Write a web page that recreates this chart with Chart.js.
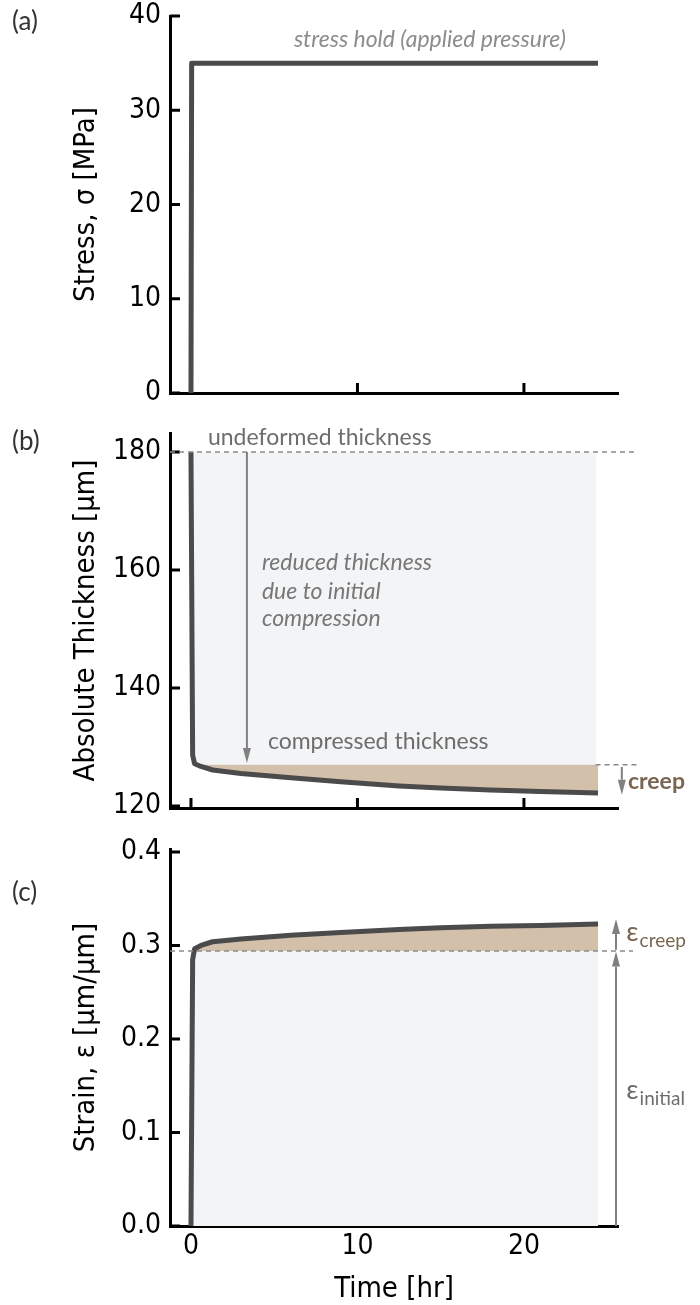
<!DOCTYPE html>
<html>
<head>
<meta charset="utf-8">
<script src="https://cdn.jsdelivr.net/npm/chart.js@4.4.1/dist/chart.umd.min.js"></script>
<style>
  html, body { margin: 0; padding: 0; background: #fff; }
  #wrap { position: relative; width: 700px; height: 1305px; }
  canvas { position: absolute; left: 0; }
</style>
</head>
<body>
<div id="wrap">
  <canvas id="chartA" width="700" height="405" style="top:0"></canvas>
  <canvas id="chartB" width="700" height="410" style="top:405px"></canvas>
  <canvas id="chartC" width="700" height="490" style="top:815px"></canvas>
</div>
<script>
// values
const timeHr      = [0, 0.1, 0.22, 0.6, 1.3, 3, 6, 9, 12.5, 15, 18, 21, 24.45];
const thicknessUm = [180, 128.6, 127.15, 126.7, 126.1, 125.5, 124.8, 124.1, 123.4, 123.05, 122.7, 122.45, 122.2];
const strainVals  = [0, 0.285, 0.2965, 0.300, 0.304, 0.307, 0.311, 0.314, 0.317, 0.319, 0.3205, 0.3215, 0.323];
const stressTime  = [0, 0.04, 24.45];
const stressMPa   = [0, 35, 35];
const undeformedUm = 180;
const compressedUm = 127;
const initialStrain = 0.294;

const timeTicks      = [0, 10, 20];
const stressTicks    = [0, 10, 20, 30, 40];
const thicknessTicks = [120, 140, 160, 180];
const strainTicks    = [0, 0.1, 0.2, 0.3, 0.4];

const AXIS_FONT = '"DejaVu Sans Condensed", "DejaVu Sans", sans-serif';
const NOTE_FONT = 'Lato, "Open Sans", sans-serif';
const LINE = '#4b4b4b';
const GREY_FILL = '#f3f4f6';
const TAN = '#d2c0ab';
const BROWN = '#7a6550';
const X_MIN = -1.26, X_MAX = 25.65;

const pts = (xs, ys) => xs.map((x, i) => ({ x, y: ys[i] }));
const last = arr => arr[arr.length - 1];

function xAxis(height, withLabels) {
  return {
    type: 'linear', min: X_MIN, max: X_MAX,
    afterBuildTicks: s => { s.ticks = timeTicks.map(v => ({ value: v })); },
    afterFit: s => { s.height = height; s.paddingLeft = 0; s.paddingRight = 0; },
    grid: { display: false, drawTicks: false },
    border: { display: true, color: '#000', width: 3 },
    ticks: { display: withLabels, color: '#000', padding: 4, maxRotation: 0, autoSkip: false,
             font: { family: AXIS_FONT, size: 28 } },
    title: { display: withLabels, text: 'Time [hr]', color: '#000',
             font: { family: AXIS_FONT, size: 29, lineHeight: 1.1 }, padding: { top: 0, bottom: 0 } }
  };
}

function yAxis(tickVals, min, max, title, digits) {
  return {
    type: 'linear', min, max,
    afterBuildTicks: s => { s.ticks = tickVals.map(v => ({ value: v })); },
    afterFit: s => { s.width = 170; s.paddingTop = 0; s.paddingBottom = 0; },
    grid: { display: false, drawTicks: false },
    border: { display: true, color: '#000', width: 3 },
    ticks: { color: '#000', padding: 9, font: { family: AXIS_FONT, size: 28 },
             callback: v => v.toFixed(digits) },
    title: { display: true, text: title, color: '#000',
             font: { family: AXIS_FONT, size: 29 }, padding: { top: 69, bottom: 0 } }
  };
}

// tick marks pointing into the plot
const innerTicks = {
  id: 'innerTicks',
  beforeDatasetsDraw(chart) {
    const { ctx, chartArea: a, scales: { x, y } } = chart;
    ctx.save();
    ctx.strokeStyle = '#000';
    ctx.lineWidth = 3;
    ctx.beginPath();
    y.ticks.forEach(t => {
      const p = y.getPixelForValue(t.value);
      ctx.moveTo(a.left, p); ctx.lineTo(a.left + 10, p);
    });
    x.ticks.forEach(t => {
      const p = x.getPixelForValue(t.value);
      ctx.moveTo(p, a.bottom); ctx.lineTo(p, a.bottom - 10);
    });
    ctx.stroke();
    ctx.restore();
  }
};

function dashH(chart, v, t0, t1) {
  const { ctx, scales: { x, y } } = chart;
  const py = y.getPixelForValue(v);
  ctx.save();
  ctx.strokeStyle = '#8a8a8a';
  ctx.lineWidth = 1.5;
  ctx.setLineDash([5, 4]);
  ctx.beginPath();
  ctx.moveTo(x.getPixelForValue(t0), py);
  ctx.lineTo(x.getPixelForValue(t1), py);
  ctx.stroke();
  ctx.restore();
}

function arrowV(chart, t, vFrom, vTo) {
  const { ctx, scales: { x, y } } = chart;
  const px = x.getPixelForValue(t);
  const y0 = y.getPixelForValue(vFrom), y1 = y.getPixelForValue(vTo);
  const dir = y1 > y0 ? 1 : -1;
  const head = 15, half = 4;
  ctx.save();
  ctx.strokeStyle = '#808080';
  ctx.fillStyle = '#808080';
  ctx.lineWidth = 2;
  ctx.beginPath();
  ctx.moveTo(px, y0);
  ctx.lineTo(px, y1 - dir * head);
  ctx.stroke();
  ctx.beginPath();
  ctx.moveTo(px, y1);
  ctx.lineTo(px - half, y1 - dir * head);
  ctx.lineTo(px + half, y1 - dir * head);
  ctx.closePath();
  ctx.fill();
  ctx.restore();
}

function note(chart, text, t, v, opts) {
  const { ctx, scales: { x, y } } = chart;
  ctx.save();
  ctx.font = opts.font;
  ctx.fillStyle = opts.color;
  ctx.textAlign = opts.align || 'left';
  ctx.textBaseline = 'middle';
  ctx.fillText(text, x.getPixelForValue(t), y.getPixelForValue(v));
  ctx.restore();
}

function panelLabel(chart, text, top) {
  const { ctx } = chart;
  ctx.save();
  ctx.font = '26px ' + NOTE_FONT;
  ctx.fillStyle = '#333';
  ctx.textBaseline = 'middle';
  ctx.fillText(text, 12, top);
  ctx.restore();
}

function epsLabel(chart, sub, t, v, color) {
  const { ctx, scales: { x, y } } = chart;
  const px = x.getPixelForValue(t), py = y.getPixelForValue(v);
  ctx.save();
  ctx.fillStyle = color;
  ctx.textBaseline = 'alphabetic';
  ctx.font = '27px ' + NOTE_FONT;
  ctx.fillText('ε', px, py + 6);
  const w = ctx.measureText('ε').width;
  ctx.font = '19px ' + NOTE_FONT;
  ctx.fillText(sub, px + w + 1, py + 12);
  ctx.restore();
}

const baseOpts = (padTop, scales) => ({
  responsive: false,
  animation: false,
  events: [],
  layout: { padding: { top: padTop, right: 82, left: 0, bottom: 0 } },
  elements: { point: { radius: 0 }, line: { tension: 0, borderJoinStyle: 'round' } },
  plugins: { legend: { display: false }, tooltip: { enabled: false } },
  scales
});

// (a) stress
new Chart(document.getElementById('chartA'), {
  type: 'line',
  data: {
    datasets: [{
      data: pts(stressTime, stressMPa), borderColor: LINE, borderWidth: 5, fill: false
    }]
  },
  options: baseOpts(16, {
    x: xAxis(12, false),
    y: yAxis(stressTicks, 0, 40, 'Stress, σ [MPa]', 0)
  }),
  plugins: [innerTicks, {
    id: 'notesA',
    afterDatasetsDraw(chart) {
      panelLabel(chart, '(a)', 22);
      note(chart, 'stress hold (applied pressure)', 14.35, 37.45,
        { font: 'italic 23px ' + NOTE_FONT, color: '#8c8c8c', align: 'center' });
    }
  }]
});

// (b) absolute thickness
new Chart(document.getElementById('chartB'), {
  type: 'line',
  data: {
    datasets: [
      { data: pts(timeHr, thicknessUm), borderColor: LINE, borderWidth: 5, fill: false, order: 1 },
      { data: pts(timeHr.slice(2), thicknessUm.slice(2)), borderWidth: 0, borderColor: 'rgba(0,0,0,0)',
        backgroundColor: TAN, fill: { value: compressedUm }, order: 2 },
      { data: pts([0, last(timeHr) - 0.1], [undeformedUm, undeformedUm]), borderWidth: 0,
        borderColor: 'rgba(0,0,0,0)', backgroundColor: GREY_FILL, fill: { value: compressedUm }, order: 3 }
    ]
  },
  options: baseOpts(28, {
    x: xAxis(7, false),
    y: yAxis(thicknessTicks, 119.66, 183.2, 'Absolute Thickness [µm]', 0)
  }),
  plugins: [innerTicks, {
    id: 'notesB',
    afterDatasetsDraw(chart) {
      panelLabel(chart, '(b)', 37);
      dashH(chart, undeformedUm, X_MIN, 26.67);
      dashH(chart, compressedUm, 24.3, 26.8);
      note(chart, 'undeformed thickness', 1.02, 182.5, { font: '23px ' + NOTE_FONT, color: '#6d6d6d' });
      arrowV(chart, 3.36, undeformedUm, 127.3);
      const it = { font: 'italic 23px ' + NOTE_FONT, color: '#777' };
      note(chart, 'reduced thickness', 4.26, 161.2, it);
      note(chart, 'due to initial', 4.26, 156.3, it);
      note(chart, 'compression', 4.26, 151.7, it);
      note(chart, 'compressed thickness', 4.62, 130.85, { font: '23px ' + NOTE_FONT, color: '#6d6d6d' });
      arrowV(chart, 25.88, 126.6, 121.9);
      note(chart, 'creep', 26.25, 124.1, { font: 'bold 23px ' + NOTE_FONT, color: BROWN });
    }
  }]
});

// (c) strain
new Chart(document.getElementById('chartC'), {
  type: 'line',
  data: {
    datasets: [
      { data: pts(timeHr, strainVals), borderColor: LINE, borderWidth: 5, fill: false, order: 1 },
      { data: pts(timeHr.slice(2), strainVals.slice(2)), borderWidth: 0, borderColor: 'rgba(0,0,0,0)',
        backgroundColor: TAN, fill: { value: initialStrain }, order: 2 },
      { data: pts([0, last(timeHr)], [initialStrain, initialStrain]), borderWidth: 0,
        borderColor: 'rgba(0,0,0,0)', backgroundColor: GREY_FILL, fill: { value: 0 }, order: 3 }
    ]
  },
  options: baseOpts(34, {
    x: xAxis(79, true),
    y: yAxis(strainTicks, 0, 0.4032, 'Strain, ε [µm/µm]', 1)
  }),
  plugins: [innerTicks, {
    id: 'notesC',
    afterDatasetsDraw(chart) {
      panelLabel(chart, '(c)', 78);
      dashH(chart, initialStrain, X_MIN, 26.55);
      arrowV(chart, 25.53, 0, 0.2935);
      arrowV(chart, 25.53, 0.2955, 0.3283);
      epsLabel(chart, 'creep', 26.15, 0.311, BROWN);
      epsLabel(chart, 'initial', 26.15, 0.142, '#6d6d6d');
    }
  }]
});
</script>
</body>
</html>
